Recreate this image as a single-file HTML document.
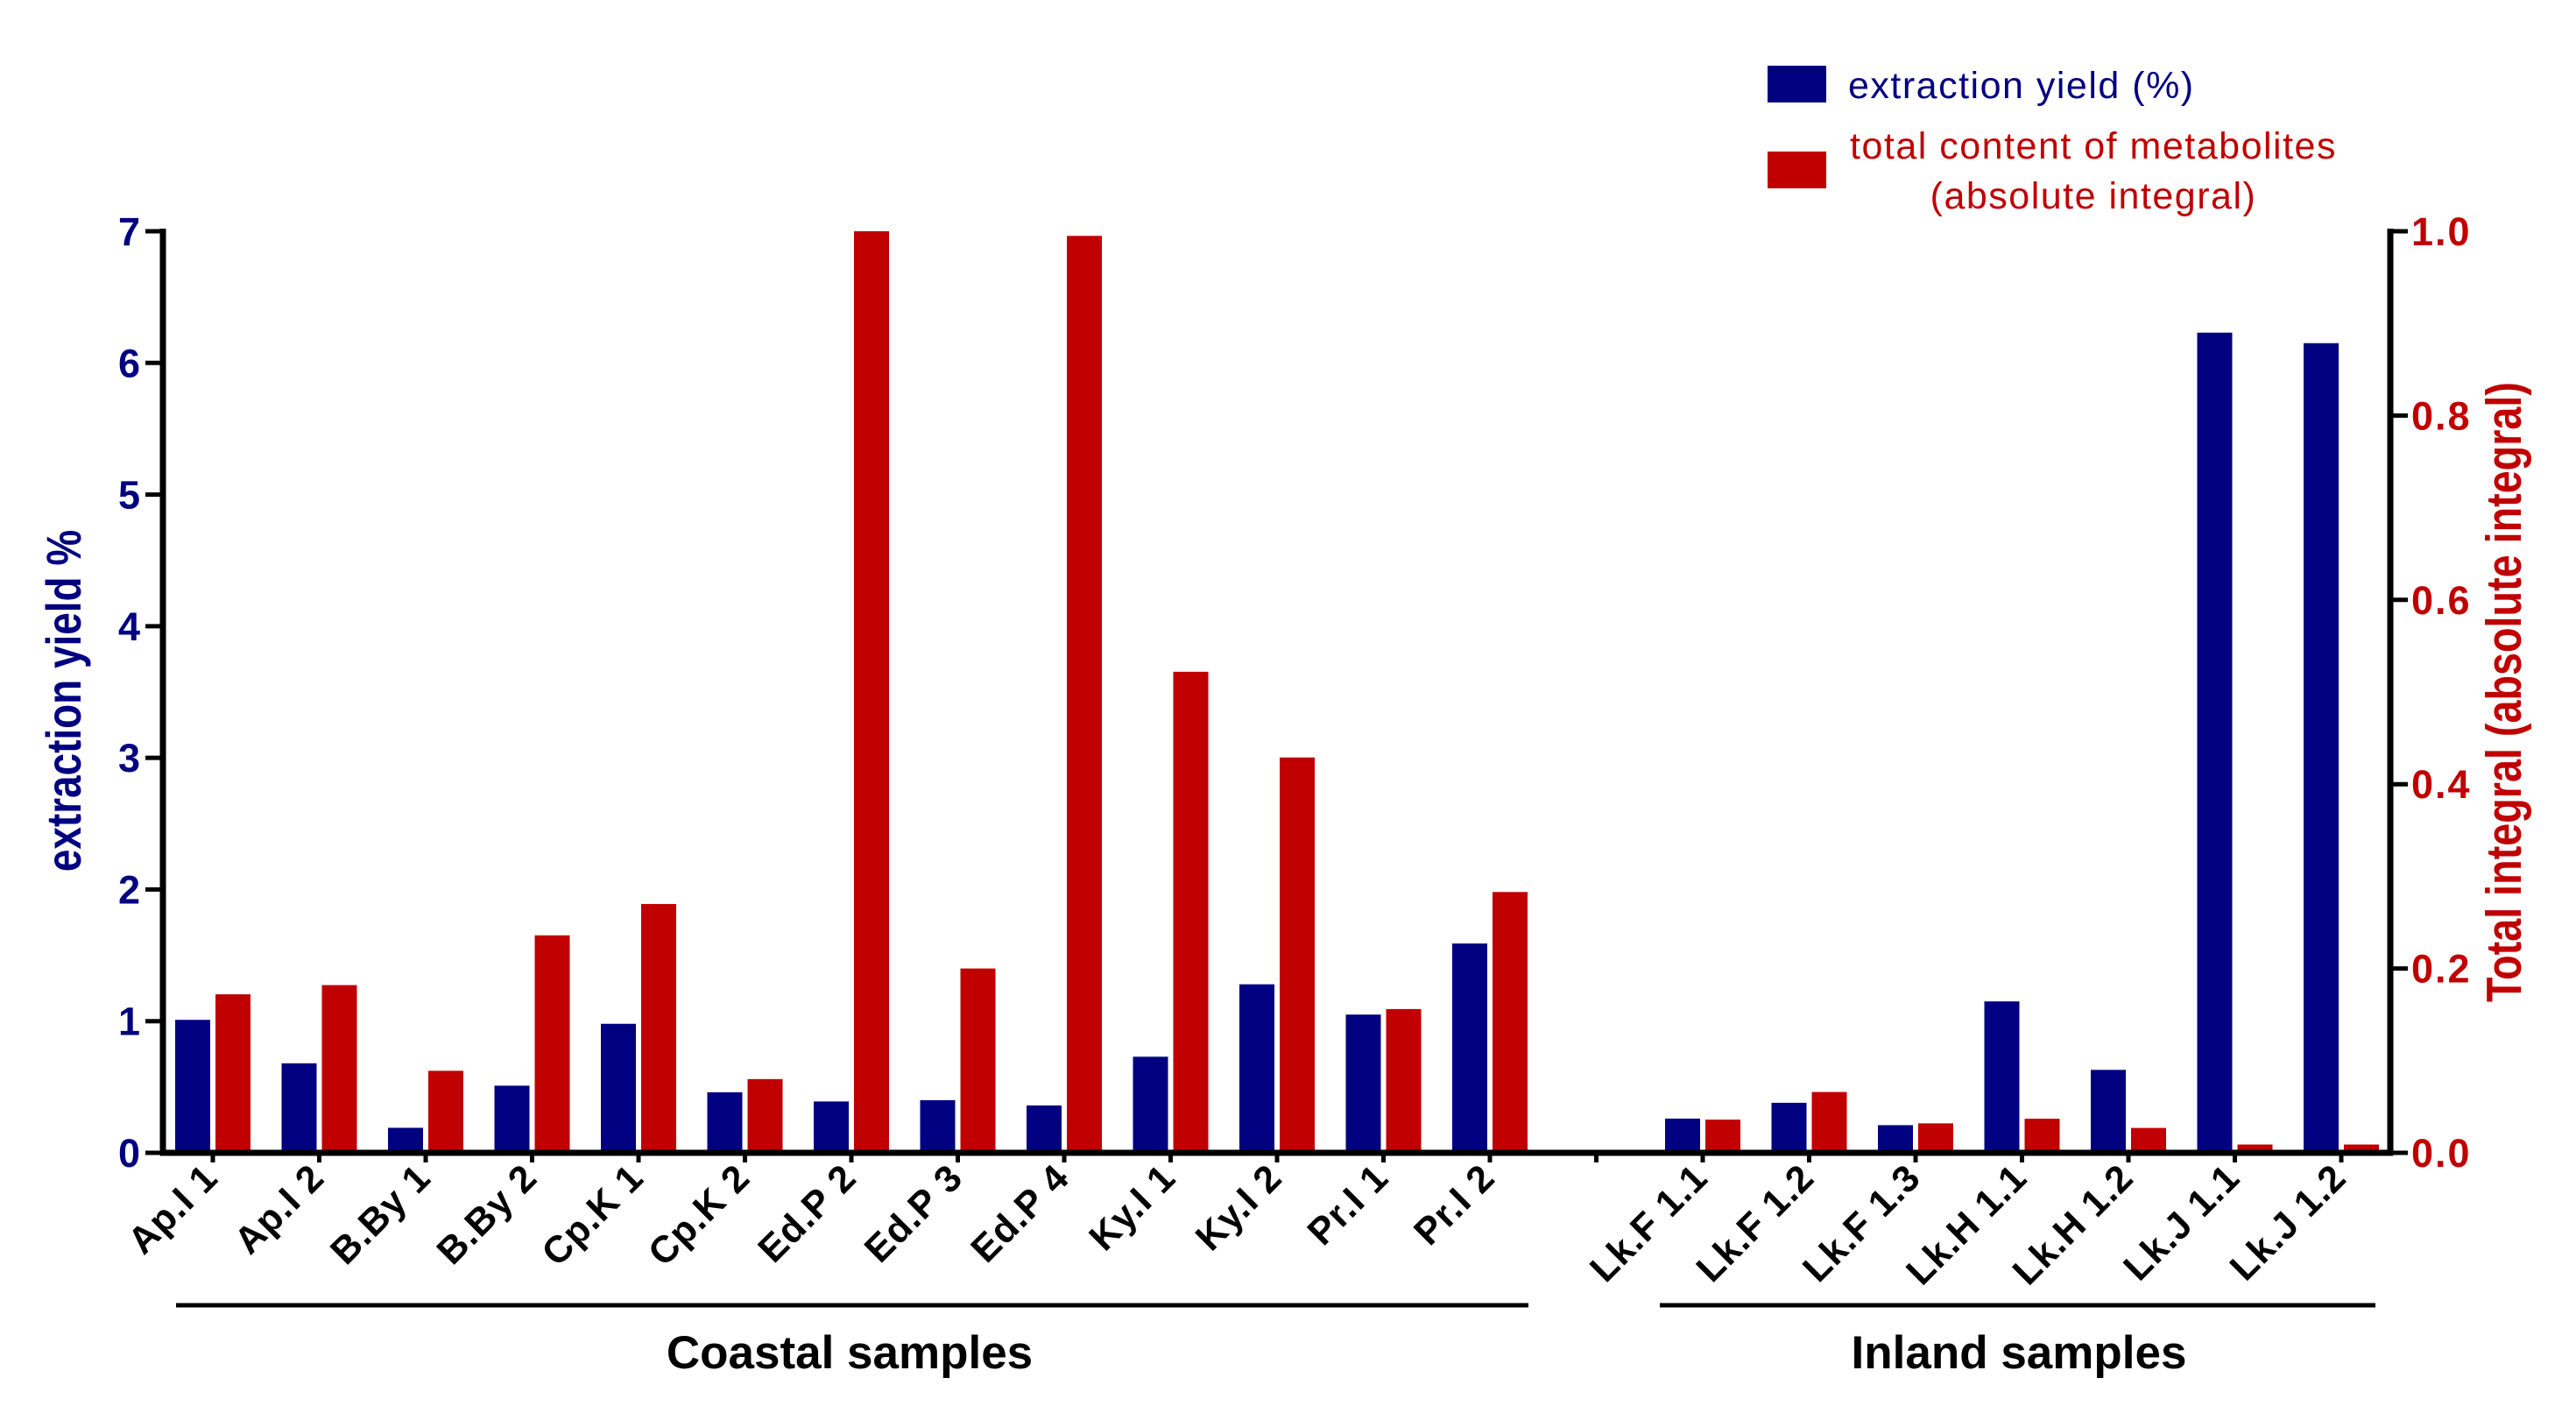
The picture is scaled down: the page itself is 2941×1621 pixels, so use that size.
<!DOCTYPE html>
<html><head><meta charset="utf-8"><style>
html,body{margin:0;padding:0;background:#fff;}
svg{display:block;font-family:"Liberation Sans",Arial,sans-serif;}
</style></head><body>
<svg id="chart" width="2941" height="1621" viewBox="0 0 2941 1621" xmlns="http://www.w3.org/2000/svg">
<g id="bars"></g>
<g id="axes"></g>
<g id="labels"></g>
<text transform="translate(92,800) rotate(-90) scale(0.82,1)" text-anchor="middle" font-size="56" font-weight="bold" fill="#000080">extraction yield %</text>
<text transform="translate(2878,790) rotate(-90) scale(0.82,1)" text-anchor="middle" font-size="57" font-weight="bold" fill="#c00000">Total integral (absolute integral)</text>
<line x1="201" y1="1490" x2="1745" y2="1490" stroke="#000" stroke-width="5"/>
<line x1="1895" y1="1490" x2="2712" y2="1490" stroke="#000" stroke-width="5"/>
<text x="970" y="1562" text-anchor="middle" font-size="53" font-weight="bold">Coastal samples</text>
<text x="2305" y="1562" text-anchor="middle" font-size="53" font-weight="bold">Inland samples</text>
<g>
<rect x="2018" y="75" width="67" height="42" fill="#000080"/>
<text x="2110" y="112" font-size="43" fill="#000080" letter-spacing="1.5">extraction yield (%)</text>
<rect x="2018" y="173" width="67" height="42" fill="#c00000"/>
<text x="2390" y="181" text-anchor="middle" font-size="43" fill="#c00000" letter-spacing="1.5">total content of metabolites</text>
<text x="2390" y="238" text-anchor="middle" font-size="43" fill="#c00000" letter-spacing="1.5">(absolute integral)</text>
</g>
</svg>
<script>
const categories = ["Ap.I 1","Ap.I 2","B.By 1","B.By 2","Cp.K 1","Cp.K 2","Ed.P 2","Ed.P 3","Ed.P 4","Ky.I 1","Ky.I 2","Pr.I 1","Pr.I 2","","Lk.F 1.1","Lk.F 1.2","Lk.F 1.3","Lk.H 1.1","Lk.H 1.2","Lk.J 1.1","Lk.J 1.2"];
const yieldValues = [1.01,0.68,0.19,0.51,0.98,0.46,0.39,0.40,0.36,0.73,1.28,1.05,1.59,null,0.26,0.38,0.21,1.15,0.63,6.23,6.15];
const integralValues = [0.172,0.182,0.089,0.236,0.270,0.080,1.0,0.200,0.995,0.522,0.429,0.156,0.283,null,0.036,0.066,0.032,0.037,0.027,0.009,0.009];
const leftTicks = ["0","1","2","3","4","5","6","7"];
const rightTicks = ["0.0","0.2","0.4","0.6","0.8","1.0"];

const NS = "http://www.w3.org/2000/svg";
const X0 = 186, X1 = 2729, Y0 = 1316, Y1 = 264;
function xCenter(i){ return 243 + i * 121.5; }
function yLeft(v){ return Y0 - (v / 7) * (Y0 - Y1); }
function yRight(v){ return Y0 - (v / 1) * (Y0 - Y1); }
function mk(tag, attrs, parent){ const e = document.createElementNS(NS, tag); for (const k in attrs) e.setAttribute(k, attrs[k]); parent.appendChild(e); return e; }

const bars = document.getElementById('bars');
const axes = document.getElementById('axes');
const labels = document.getElementById('labels');

categories.forEach((c, i) => {
  const cx = xCenter(i);
  if (yieldValues[i] != null) {
    const y = yLeft(yieldValues[i]);
    const r = mk('rect', {x: cx - 43, y: y, width: 40, height: Y0 - y, fill: '#000080'}, bars);
    
    
  }
  if (integralValues[i] != null) {
    const y = yRight(integralValues[i]);
    const r = mk('rect', {x: cx + 3, y: y, width: 40, height: Y0 - y, fill: '#c00000'}, bars);
    
    
  }
  const t = mk('line', {x1: cx, y1: Y0, x2: cx, y2: Y0 + 11, stroke: '#000', 'stroke-width': 5}, axes);
  
  
  if (c) {
    const tx = mk('text', {transform: 'translate(' + (cx + 8) + ',1347) rotate(-45)', 'text-anchor': 'end', 'font-size': 43, 'font-weight': 'bold', fill: '#000', 'letter-spacing': 1}, labels);
    tx.textContent = c;
    
    
  }
});

let a = mk('line', {x1: X0, y1: Y1 - 3, x2: X0, y2: Y0 + 3, stroke: '#000', 'stroke-width': 7}, axes);


a = mk('line', {x1: X1, y1: Y1 - 3, x2: X1, y2: Y0 + 3, stroke: '#000', 'stroke-width': 7}, axes);


a = mk('line', {x1: X0 - 3, y1: Y0, x2: X1 + 3, y2: Y0, stroke: '#000', 'stroke-width': 7}, axes);



leftTicks.forEach((lab, i) => {
  const y = yLeft(+lab);
  const l = mk('line', {x1: X0 - 20, y1: y, x2: X0, y2: y, stroke: '#000', 'stroke-width': 5}, axes);
  
  
  const t = mk('text', {x: 160, y: y + 16, 'text-anchor': 'end', 'font-size': 45, 'font-weight': 'bold', fill: '#000080'}, axes);
  t.textContent = lab;
  
  
});
rightTicks.forEach((lab, i) => {
  const y = yRight(+lab);
  const l = mk('line', {x1: X1, y1: y, x2: X1 + 20, y2: y, stroke: '#000', 'stroke-width': 5}, axes);
  
  
  const t = mk('text', {x: 2753, y: y + 16, 'text-anchor': 'start', 'font-size': 45, 'font-weight': 'bold', fill: '#c00000', 'letter-spacing': 2}, axes);
  t.textContent = lab;
  
  
});
</script>
</body></html>
